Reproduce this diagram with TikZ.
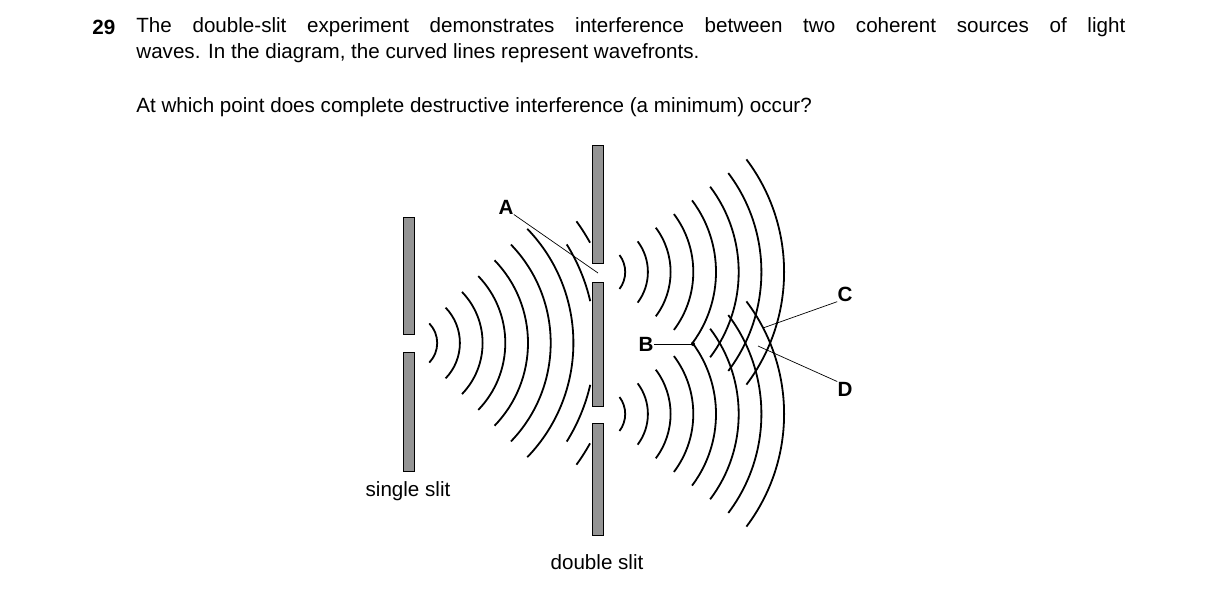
\documentclass[tikz,border=0pt]{standalone}
\usepackage{fontspec}
\setmainfont{Liberation Sans}
\usepackage{tikz}

\tikzset{
    barrier/.style = {draw = black, line width = 0.4pt, fill = black!42},
    wave/.style = {line width = 0.9pt},
    pointer/.style = {line width = 0.35pt},
    lbl/.style = {font = \fontsize{10.3}{13}\selectfont, inner sep = 0pt}
}

\begin{document}
\begin{tikzpicture}[x = 0.5pt, y = -0.5pt]

    \useasboundingbox (0, 0) rectangle (1216, 594);

    % question text
    \node[lbl, font = \fontsize{10.3}{13}\bfseries, anchor = base west] (num) at (92, 34) {29};
    \node[lbl, anchor = north west, text width = 494.5pt, align = justify] (question) at (136, 17)
        {The double-slit experiment demonstrates interference between two coherent sources of light\linebreak waves. In the diagram, the curved lines represent wavefronts.};
    \node[lbl, anchor = base west] (ask) at (136, 112) {At which point does complete destructive interference (a minimum) occur?};

    % slit centres
    \coordinate (s0) at (409, 343);
    \coordinate (s1) at (597, 272);
    \coordinate (s2) at (597, 414);

    % waves from the single slit
    \foreach \k in {1,...,7}
        \draw[wave] (s0) ++(-44:5.5+22.7*\k) arc[start angle = -44, end angle = 44, radius = 5.5+22.7*\k];
    \draw[wave] (s0) ++(13:186) arc[start angle = 13, end angle = 32, radius = 186];
    \draw[wave] (s0) ++(-13:186) arc[start angle = -13, end angle = -32, radius = 186];
    \draw[wave] (s0) ++(29:207) arc[start angle = 29, end angle = 36, radius = 207];
    \draw[wave] (s0) ++(-29:207) arc[start angle = -29, end angle = -36, radius = 207];

    % waves from the double slit
    \foreach \k in {1,...,8} {
        \draw[wave] (s1) ++(-37:5.5+22.7*\k) arc[start angle = -37, end angle = 37, radius = 5.5+22.7*\k];
        \draw[wave] (s2) ++(-37:5.5+22.7*\k) arc[start angle = -37, end angle = 37, radius = 5.5+22.7*\k];
    }

    % barriers
    \draw[barrier] (403, 217) rectangle (414, 334);
    \draw[barrier] (403, 352) rectangle (414, 471);
    \draw[barrier] (592, 145) rectangle (603, 263);
    \draw[barrier] (592, 282) rectangle (603, 406);
    \draw[barrier] (592, 423) rectangle (603, 535);

    \node[lbl] (single) at (408, 491) {single slit};
    \node[lbl] (double) at (597, 562) {double slit};

    % points
    \coordinate (pa) at (598, 273);
    \coordinate (pb) at (693, 344);
    \coordinate (pc) at (763, 328);
    \coordinate (pd) at (758, 346);
    \fill (pb) circle (2);

    \node[lbl, font = \fontsize{10.3}{13}\bfseries] (a) at (506, 207) {A};
    \node[lbl, font = \fontsize{10.3}{13}\bfseries] (b) at (646, 344) {B};
    \node[lbl, font = \fontsize{10.3}{13}\bfseries] (c) at (845, 294) {C};
    \node[lbl, font = \fontsize{10.3}{13}\bfseries] (d) at (845, 389) {D};

    \draw[pointer] (a.south east) -- (pa);
    \draw[pointer] (b.east) -- (pb);
    \draw[pointer] (c.south west) -- (pc);
    \draw[pointer] (d.north west) -- (pd);

\end{tikzpicture}
\end{document}
